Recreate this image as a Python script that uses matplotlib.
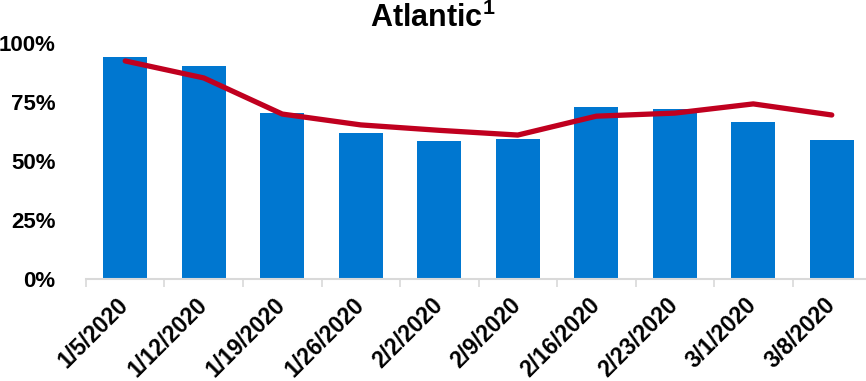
import numpy as np
import matplotlib.pyplot as plt

# weekly data
weeks = ['1/5/2020', '1/12/2020', '1/19/2020', '1/26/2020', '2/2/2020',
         '2/9/2020', '2/16/2020', '2/23/2020', '3/1/2020', '3/8/2020']
bar_vals = [94.0, 90.3, 70.3, 61.9, 58.5, 59.3, 72.9, 72.0, 66.5, 58.9]
line_vals = [92.4, 85.2, 69.9, 65.3, 63.0, 61.0, 69.0, 70.3, 74.2, 69.5]

plt.rcParams['font.family'] = ['Liberation Sans', 'DejaVu Sans']
plt.rcParams['mathtext.fontset'] = 'custom'
plt.rcParams['mathtext.bf'] = 'Liberation Sans:bold'

fig = plt.figure(figsize=(8.66, 3.81), dpi=100)
ax = fig.add_axes([0.0993, 0.2677, 0.9065, 0.6194])

x = np.arange(len(weeks))
ax.bar(x, bar_vals, width=0.56, color='#0077d0', zorder=2)
ax.plot(x, line_vals, color='#c0001f', lw=3.8, solid_capstyle='round', zorder=3)

ax.set_xlim(-0.5, len(weeks) - 0.5)
ax.set_ylim(0, 100)

# y axis
ax.set_yticks([0, 25, 50, 75, 100])
ax.set_yticklabels(['0%', '25%', '50%', '75%', '100%'], fontsize=16, fontweight='bold')
ax.tick_params(axis='y', length=0, pad=22)

# x axis
ax.set_xticks(x)
ax.set_xticklabels(weeks, fontsize=16.5, fontweight='bold', rotation=45,
                   ha='right', va='center', rotation_mode='anchor')
ax.tick_params(axis='x', which='major', length=0, pad=16)
ax.set_xticks(np.arange(-0.5, len(weeks), 1.0), minor=True)
ax.tick_params(axis='x', which='minor', length=6, width=1.2, color='#d9d9d9')

for s in ['top', 'right', 'left']:
    ax.spines[s].set_visible(False)
ax.spines['bottom'].set_color('#d9d9d9')
ax.spines['bottom'].set_linewidth(1.5)

fig.text(0.5, 0.953, r'Atlantic$^{\mathbf{1}}$', ha='center', va='center',
         fontsize=22, fontweight='bold')

fig.savefig('out.png', dpi=100)
